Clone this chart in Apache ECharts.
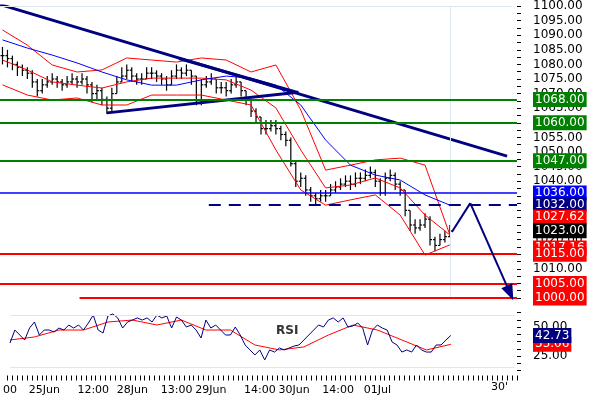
<!DOCTYPE html>
<html>
<head>
<meta charset="utf-8">
<script src="https://cdn.jsdelivr.net/npm/echarts@6/dist/echarts.min.js"></script>
<style>html,body{margin:0;padding:0;background:#fff}#main{width:590px;height:400px}</style>
</head>
<body>
<div id="main"></div>
<script>
// 30' bars, one category per bar
const closes = [1083,1082,1080,1079,1078, 1077,1074,1071,1073,1074, 1075,1074,1073,1074,1075, 1074,1075,1073,1070,1071,
  1068,1065,1070,1074,1076, 1078,1076,1075,1075,1077, 1077,1076,1075,1073,1076, 1078,1077,1078,1076,1067,
  1073,1074,1075,1072,1072, 1071,1073,1074,1071,1068, 1064,1062,1058,1058,1059, 1058,1056,1054,1046,1040,
  1041,1037,1035,1034,1035, 1035,1037,1038,1039,1040, 1039,1041,1041,1042,1043, 1040,1036,1041,1042,1039,
  1037,1030,1025,1024,1025, 1027,1020,1018,1020,1021, 1023];
const highs = [1086,1085,1083,1081,1080, 1079,1078,1075,1075,1076, 1077,1076,1075,1076,1077, 1076,1077,1076,1074,1073,
  1072,1069,1072,1076,1079, 1080,1079,1077,1077,1079, 1079,1078,1077,1076,1078, 1080,1079,1080,1078,1076,
  1075,1076,1077,1075,1074, 1074,1075,1076,1074,1071, 1068,1065,1062,1061,1061, 1061,1059,1057,1055,1047,
  1043,1042,1038,1036,1037, 1037,1039,1040,1041,1042, 1042,1043,1043,1044,1045, 1044,1041,1043,1044,1043,
  1040,1037,1030,1027,1027, 1029,1028,1021,1022,1023, 1025];
const lows = [1080,1079,1078,1076,1076, 1075,1072,1069,1070,1072, 1073,1072,1071,1072,1073, 1072,1073,1070,1067,1068,
  1066,1063,1064,1070,1074, 1075,1074,1073,1073,1075, 1075,1074,1073,1071,1073, 1075,1075,1076,1073,1066,
  1066,1072,1073,1070,1070, 1069,1070,1072,1069,1066, 1062,1060,1056,1056,1057, 1056,1054,1052,1045,1038,
  1038,1035,1033,1032,1033, 1033,1035,1036,1037,1038, 1037,1038,1039,1040,1041, 1038,1035,1035,1040,1037,
  1035,1028,1023,1022,1023, 1024,1018,1016,1018,1019, 1021];
// bollinger bands & moving average, read every 5 bars
const bandIdx = [0,5,10,15,20,25,30,35,40,45,50,55,60,65,70,75,80,85,90];
const bbUpper = [1091.8,1086.6,1079.8,1077.4,1078.1,1082.2,1081.5,1080.8,1082.2,1081.5,1077.4,1079.8,1064.4,1043.8,1045.5,1047.3,1047.9,1045.5,1021.6];
const bbMid = [1081.5,1078.1,1074,1072.9,1071.9,1074,1075.3,1075.3,1075.3,1074.7,1071.2,1065.1,1050.7,1037.7,1038.7,1041.1,1037.7,1028.4,1021.6];
const bbLower = [1073,1069.5,1067.8,1068.5,1066.1,1066.1,1069.5,1069.5,1069.5,1067.8,1066.1,1050.7,1037,1031.8,1033.6,1035.3,1028.4,1014.7,1018.2];
const maBlue = [1088.4,1085.6,1083.2,1080.5,1077.4,1074.7,1072.9,1072.9,1074.7,1076,1075.3,1072.9,1066.1,1054.1,1045.5,1042.1,1040.4,1035.3,1031.8];
const rsi = [36.2,47.4,43.1,38.8,49.1,54.3,43.1,47.4,47.4,45.7, 49.1,47.4,51.7,49.1,51.7,47.4,53.4,60.3,47.4,44.8,
  59.5,61.2,57.8,49.1,54.3,56,57.8,56,57.8,54.3, 60.3,57.8,59.5,49.1,58.6,56,50,51.7,47.4,40.5,
  56,49.1,51.7,47.4,43.1,43.1,50,43.1,34.5,30.2, 25.9,30.2,21.6,30.2,28.4,31.9,30.2,31.9,33.6,34.5,
  38.8,43.1,47.4,51.7,50,56,57.8,54.3,57.8,50, 50.9,53.4,49.1,34.5,47.4,51.7,49.1,47.4,37.1,34.5,
  28.4,30.2,28.4,34.5,30.2,28.4,28.4,34.5,34.5,38.8, 42.73];
const rsiMa = [38.8,41.4,47.4,47.4,54.3,56,51.7,56,47.4,47.4,34.5,30.2,32.8,43.1,51.7,47.4,38.8,30.2,35.06];
const timeLabels = {0:'00',7:'25Jun',17:'12:00',25:'28Jun',34:'13:00',41:'29Jun',51:'14:00',58:'30Jun',67:'14:00',75:'01Jul'};
// trend lines, x in bar units
const downTrend = [[0,1100.5],[102,1048.6]];
const triLower = [[21.5,1063.4],[60,1070.5]];
const triUpper = [[36,1082],[60,1070.3]];
const forecast = [[90.9,1022.6],[94.6,1032.5],[102.6,1001.7]];
const levels = [
  {v:1068, c:'#008000', from:0},
  {v:1060, c:'#008000', from:0},
  {v:1047, c:'#008000', from:0},
  {v:1036, c:'#0000ff', from:0, w:1.5},
  {v:1015, c:'#ff0000', from:0},
  {v:1005, c:'#ff0000', from:0},
  {v:1000, c:'#ff0000', from:16}
];

const nCat = 104;
const cats = [];
for (let i = 0; i < nCat; i++) cats.push(timeLabels[i] || '');
const ohlc = closes.map((c, i) => [i, i > 0 ? closes[i-1] : c, highs[i], lows[i], c]);
const FONT = 'DejaVu Sans';

function pairs(idx, vals) { return idx.map((x, k) => [x + 0.5, vals[k]]); }

function labelLine(v, bg, fg) {
  return {yAxis: v, lineStyle: {color: 'rgba(0,0,0,0)', width: 0},
    label: {show: true, position: 'end', distance: 16, formatter: v.toFixed(2),
      backgroundColor: bg, color: fg || '#fff', padding: [2, 2, 1, 2], fontSize: 12, fontFamily: FONT}};
}

const chart = echarts.init(document.getElementById('main'));
const option = {
  animation: false,
  grid: [
    {left: 0, right: 73, top: 6, height: 292},
    {left: 0, right: 73, top: 312.5, height: 58}
  ],
  xAxis: [
    {type: 'category', data: cats, gridIndex: 0, show: false},
    {type: 'value', gridIndex: 0, min: 0, max: nCat, show: false},
    {type: 'category', data: cats, gridIndex: 1,
      axisLine: {show: false}, offset: 5,
      axisTick: {show: true, interval: 0, length: 5, lineStyle: {color: '#000'}},
      axisLabel: {interval: 0, margin: 9, fontSize: 11, fontFamily: FONT, color: '#000'}}
  ],
  yAxis: [
    {type: 'value', gridIndex: 0, position: 'right', min: 1000, max: 1100, interval: 5,
      axisLine: {show: false, onZero: false}, splitLine: {show: false},
      axisTick: {show: true, length: 4, lineStyle: {color: '#000'}},
      minorTick: {show: true, splitNumber: 2, length: 4, lineStyle: {color: '#000'}},
      axisLabel: {margin: 16, fontSize: 12, fontFamily: FONT, color: '#000', formatter: v => v.toFixed(2)}},
    {type: 'value', gridIndex: 1, position: 'right', min: 12.5, max: 62.5, interval: 12.5,
      axisLine: {show: false, onZero: false}, splitLine: {show: false},
      axisTick: {show: true, length: 4, lineStyle: {color: '#000'}},
      minorTick: {show: true, splitNumber: 2, length: 4, lineStyle: {color: '#000'}},
      axisLabel: {margin: 16, fontSize: 12, fontFamily: FONT, color: '#000',
        formatter: v => (v === 25 || v === 50) ? v.toFixed(2) : ''}}
  ],
  graphic: [
    {type: 'text', left: 491, top: 382, style: {text: "30'", font: '11px "DejaVu Sans"', fill: '#000'}},
    {type: 'text', left: 276, top: 325, style: {text: 'RSI', font: 'bold 12px "DejaVu Sans"', fill: '#333'}}
  ],
  series: [
    {type: 'line', xAxisIndex: 1, yAxisIndex: 0, data: [], silent: true,
      markLine: {silent: true, symbol: 'none', data: [
        [{coord: [0, 1100], lineStyle: {color: '#dde8ee', width: 1, type: 'solid'}, label: {show: false}}, {coord: [103, 1100]}],
        [{coord: [90.5, 1100], lineStyle: {color: '#dde8ee', width: 1, type: 'solid'}, label: {show: false}}, {coord: [90.5, 1000]}]
      ]}},
    {type: 'line', xAxisIndex: 1, yAxisIndex: 0, data: pairs(bandIdx, bbUpper), showSymbol: false, lineStyle: {color: '#ff0000', width: 1}},
    {type: 'line', xAxisIndex: 1, yAxisIndex: 0, data: pairs(bandIdx, bbMid), showSymbol: false, lineStyle: {color: '#ff0000', width: 1}},
    {type: 'line', xAxisIndex: 1, yAxisIndex: 0, data: pairs(bandIdx, bbLower), showSymbol: false, lineStyle: {color: '#ff0000', width: 1}},
    {type: 'line', xAxisIndex: 1, yAxisIndex: 0, data: pairs(bandIdx, maBlue), showSymbol: false, lineStyle: {color: '#0000ff', width: 1}},
    {type: 'custom', xAxisIndex: 0, yAxisIndex: 0, data: ohlc,
      renderItem: function (params, api) {
        const x = api.value(0);
        const o = api.coord([x, api.value(1)]);
        const h = api.coord([x, api.value(2)]);
        const l = api.coord([x, api.value(3)]);
        const c = api.coord([x, api.value(4)]);
        const st = {stroke: '#000', lineWidth: 1.2};
        return {type: 'group', children: [
          {type: 'line', shape: {x1: h[0], y1: h[1], x2: l[0], y2: l[1]}, style: st},
          {type: 'line', shape: {x1: o[0] - 2, y1: o[1], x2: o[0], y2: o[1]}, style: st},
          {type: 'line', shape: {x1: c[0], y1: c[1], x2: c[0] + 2, y2: c[1]}, style: st}
        ]};
      }},
    {type: 'line', xAxisIndex: 1, yAxisIndex: 0, data: [], silent: true,
      markLine: {silent: true, symbol: 'none',
        data: levels.map(l => [
          {coord: [l.from, l.v], lineStyle: {color: l.c, width: l.w || 2, type: 'solid'}, label: {show: false}},
          {coord: [nCat, l.v]}
        ]).concat([
          [{coord: [42, 1032], lineStyle: {color: '#000080', width: 2, type: [12, 8]}, label: {show: false}}, {coord: [nCat, 1032]}]
        ])}},
    {type: 'line', xAxisIndex: 1, yAxisIndex: 0, data: downTrend, showSymbol: false, lineStyle: {color: '#000080', width: 3}},
    {type: 'line', xAxisIndex: 1, yAxisIndex: 0, data: triLower, showSymbol: false, lineStyle: {color: '#000080', width: 3}},
    {type: 'line', xAxisIndex: 1, yAxisIndex: 0, data: triUpper, showSymbol: false, lineStyle: {color: '#000080', width: 3}},
    {type: 'line', xAxisIndex: 1, yAxisIndex: 0, data: forecast.slice(0, 2), showSymbol: false, lineStyle: {color: '#000080', width: 2}},
    {type: 'line', xAxisIndex: 1, yAxisIndex: 0, data: [], silent: true,
      markLine: {silent: true, symbol: ['none', 'triangle'], symbolSize: [12, 16],
        data: [[{coord: forecast[1], lineStyle: {color: '#000080', width: 2, type: 'solid'}, label: {show: false}}, {coord: forecast[2]}]]}},
    {type: 'line', xAxisIndex: 1, yAxisIndex: 0, data: [], silent: true,
      markLine: {silent: true, symbol: 'none', data: [
        labelLine(1017.16, '#ff0000'),
        labelLine(1068, '#008000'), labelLine(1060, '#008000'), labelLine(1047, '#008000'),
        labelLine(1036, '#0000ff'), labelLine(1032, '#000080'), labelLine(1027.62, '#ff0000'),
        labelLine(1023, '#000000'), labelLine(1015, '#ff0000'), labelLine(1005, '#ff0000'),
        labelLine(1000, '#ff0000')
      ]}},
    {type: 'line', xAxisIndex: 2, yAxisIndex: 1, data: [], silent: true,
      markLine: {silent: true, symbol: 'none', data: [
        [{coord: [0, 60], lineStyle: {color: '#dde8ee', width: 1, type: 'solid'}, label: {show: false}}, {coord: [103, 60]}],
        [{coord: [0, 15], lineStyle: {color: '#dde8ee', width: 1, type: 'solid'}, label: {show: false}}, {coord: [103, 15]}]
      ]}},
    {type: 'line', xAxisIndex: 2, yAxisIndex: 1, data: bandIdx.map((x, k) => [x, rsiMa[k]]), showSymbol: false, lineStyle: {color: '#ff0000', width: 1}},
    {type: 'line', xAxisIndex: 2, yAxisIndex: 1, data: rsi, showSymbol: false, lineStyle: {color: '#000080', width: 1},
      markLine: {silent: true, symbol: 'none', data: [labelLine(35.06, '#ff0000'), labelLine(42.73, '#000080')]}}
  ]
};
chart.setOption(option);
</script>
</body>
</html>
